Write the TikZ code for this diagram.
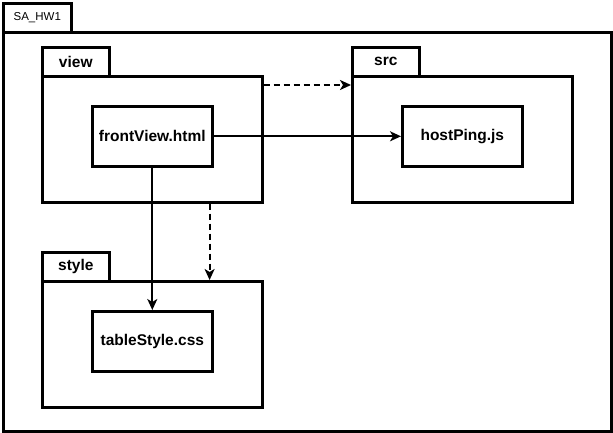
\documentclass[tikz,border=0pt]{standalone}
\usepackage{fontspec}
\setmainfont{Liberation Sans}
\usetikzlibrary{arrows.meta}

\tikzset{
  box/.style={draw, line width=2.6pt, inner sep=0pt, anchor=north west},
  tab/.style={box, minimum width=67pt, minimum height=29pt, font=\bfseries\fontsize{15.5}{18}\selectfont},
  pkg/.style={box, minimum width=220pt, minimum height=126pt},
  file/.style={box, minimum width=120pt, minimum height=60pt, font=\bfseries\fontsize{15.5}{18}\selectfont},
  dep/.style={line width=1.8pt, -{Stealth[length=11pt,width=10pt,inset=3pt]}},
}

\begin{document}
\begin{tikzpicture}[x=1pt,y=-1pt]
    \useasboundingbox (0,0) rectangle (613,433);

    % outer package
    \node[box, minimum width=68pt, minimum height=29pt, font=\fontsize{11.5}{13}\selectfont] (roottab) at (2,2) {SA\_HW1};
    \node[box, minimum width=608pt, minimum height=399pt] (root) at (2,31) {};

    % packages
    \foreach \pkgname/\x/\y in {view/41/46, src/351/46, style/41/251} {
      \node[tab] (\pkgname tab) at (\x,\y) {\pkgname};
      \node[pkg] (\pkgname) at (\x,\y+29) {};
    }

    % files
    \node[file] (front) at (91,105) {frontView.html};
    \node[file] (host) at (401,105) {hostPing.js};
    \node[file] (table) at (91,310) {tableStyle.css};

    \draw[dep] (front) -- (host);
    \draw[dep] (front) -- (table);
    \draw[dep, dash pattern=on 6pt off 4pt] ([yshift=-10pt]view.north east) -- ([yshift=-10pt]src.north west);
    \draw[dep, dash pattern=on 6pt off 4pt] ([xshift=-54pt]view.south east) -- ([xshift=-54pt]style.north east);
\end{tikzpicture}
\end{document}
